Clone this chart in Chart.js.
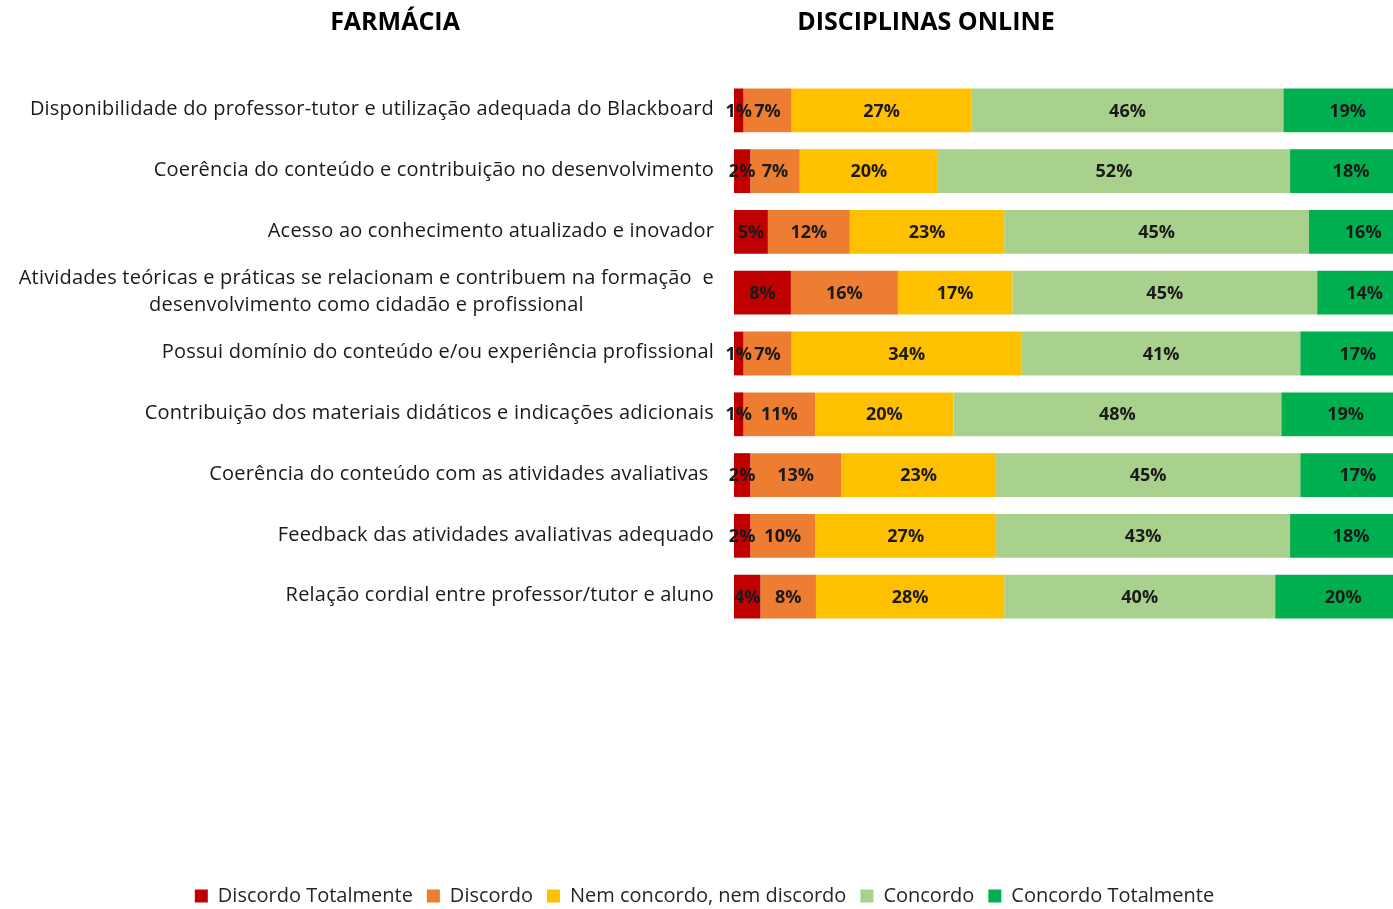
<!DOCTYPE html>
<html>
<head>
<meta charset="utf-8">
<script src="https://cdn.jsdelivr.net/npm/chart.js@4"></script>
<style>
  html, body { margin: 0; padding: 0; background: #fff; }
</style>
</head>
<body>
<canvas id="myChart" width="1393" height="909"></canvas>
<script>
var categories = [
  'Disponibilidade do professor-tutor e utilização adequada do Blackboard',
  'Coerência do conteúdo e contribuição no desenvolvimento',
  'Acesso ao conhecimento atualizado e inovador',
  ['Atividades teóricas e práticas se relacionam e contribuem na formação  e', 'desenvolvimento como cidadão e profissional'],
  'Possui domínio do conteúdo e/ou experiência profissional',
  'Contribuição dos materiais didáticos e indicações adicionais',
  'Coerência do conteúdo com as atividades avaliativas ',
  'Feedback das atividades avaliativas adequado',
  'Relação cordial entre professor/tutor e aluno'
];

var discordoTotalmente = [1.4, 2.4, 5.0, 8.4, 1.4, 1.4, 2.4, 2.4, 3.9];
var discordo           = [7.1, 7.3, 12.1, 15.8, 7.1, 10.6, 13.4, 9.6, 8.2];
var nemConcordo        = [26.6, 20.4, 22.8, 16.9, 34.0, 20.4, 22.9, 26.7, 27.8];
var concordo           = [46.0, 52.0, 45.0, 45.0, 41.1, 48.4, 44.9, 43.4, 40.0];
var concordoTotalmente = [19.0, 18.0, 16.0, 14.0, 17.0, 19.0, 17.0, 18.0, 20.1];

var titleLeft = 'FARMÁCIA';
var titleRight = 'DISCIPLINAS ONLINE';

// titulos e rotulos das categorias
var textPlugin = {
  id: 'textPlugin',
  afterDraw: function(chart) {
    var c = chart.ctx;
    var yScale = chart.scales.y;
    c.save();
    c.fillStyle = '#000';
    c.font = 'bold 25px "Open Sans"';
    c.textAlign = 'center';
    c.textBaseline = 'middle';
    c.fillText(titleLeft, 395, 23);
    c.fillText(titleRight, 926, 23);

    c.font = '20px "Open Sans"';
    c.letterSpacing = '0.2px';
    c.fillStyle = '#1a1a1a';
    var right = 714;
    categories.forEach(function(label, i) {
      var y = yScale.getPixelForValue(i);
      var lines = Array.isArray(label) ? label : [label];
      var w = Math.max.apply(null, lines.map(function(l) { return c.measureText(l).width; }));
      var lh = 27;
      var y0 = y - (lines.length - 1) * lh / 2;
      lines.forEach(function(l, k) {
        if (lines.length === 1) {
          c.textAlign = 'right';
          c.fillText(l, right, y0 - 1);
        } else {
          c.textAlign = 'center';
          c.fillText(l, right - w / 2, y0 + k * lh - 1);
        }
      });
    });
    c.restore();
  }
};

// percentuais dentro das barras
var barLabels = {
  id: 'barLabels',
  afterDatasetsDraw: function(chart) {
    var c = chart.ctx;
    c.save();
    c.font = 'bold 18px "Open Sans"';
    c.fillStyle = '#1a1a1a';
    c.textAlign = 'center';
    c.textBaseline = 'middle';
    chart.data.datasets.forEach(function(ds, i) {
      chart.getDatasetMeta(i).data.forEach(function(bar, j) {
        c.fillText(Math.round(ds.data[j]) + '%', (bar.x + bar.base) / 2, bar.y + 1);
      });
    });
    c.restore();
  }
};

var ctx = document.getElementById('myChart').getContext('2d');
var myChart = new Chart(ctx, {
  type: 'bar',
  data: {
    labels: categories,
    datasets: [{
        label: 'Discordo Totalmente',
        data: discordoTotalmente,
        backgroundColor: '#C00000'
      }, {
        label: 'Discordo',
        data: discordo,
        backgroundColor: '#ED7D31'
      }, {
        label: 'Nem concordo, nem discordo',
        data: nemConcordo,
        backgroundColor: '#FFC000'
      }, {
        label: 'Concordo',
        data: concordo,
        backgroundColor: '#A9D18E'
      }, {
        label: 'Concordo Totalmente',
        data: concordoTotalmente,
        backgroundColor: '#00B050'
      }
    ]
  },
  options: {
    indexAxis: 'y',
    responsive: false,
    animation: false,
    events: [],
    datasets: {
      bar: {
        categoryPercentage: 1,
        barPercentage: 0.72,
        borderWidth: 0
      }
    },
    layout: {
      padding: { top: 80, right: 0, bottom: -7, left: 16 }
    },
    plugins: {
      tooltip: { enabled: false },
      legend: {
        position: 'bottom',
        labels: {
          boxWidth: 13,
          boxHeight: 13,
          padding: 14,
          color: '#262626',
          font: { family: 'Open Sans', size: 20 }
        }
      }
    },
    scales: {
      x: {
        stacked: true,
        min: 0,
        max: 97.3,
        ticks: { display: false },
        grid: { display: false },
        border: { display: false },
        afterFit: function(s) { s.height = 245; }
      },
      y: {
        stacked: true,
        ticks: { display: false },
        grid: { display: false },
        border: { display: false },
        afterFit: function(s) { s.width = 718; }
      }
    }
  },
  plugins: [textPlugin, barLabels]
});
</script>
</body>
</html>
